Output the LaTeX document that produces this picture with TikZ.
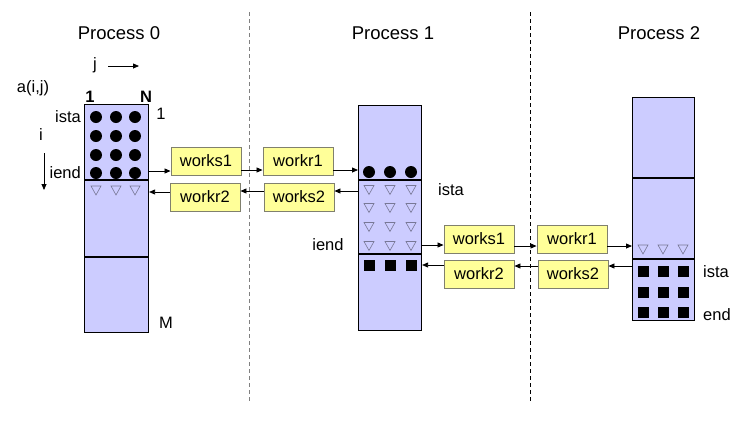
\documentclass[tikz,border=0pt]{standalone}
\usepackage{fontspec}
\setmainfont{Liberation Sans}
\usetikzlibrary{arrows.meta}
\definecolor{colfill}{RGB}{204,204,255}
\definecolor{boxfill}{RGB}{255,255,153}
\definecolor{boxdraw}{RGB}{128,128,110}
\definecolor{trigray}{RGB}{120,120,150}
\begin{document}
\begin{tikzpicture}[x=1pt,y=-1pt,
  col/.style={draw=black, fill=colfill, line width=1.1pt, inner sep=0pt, anchor=north west},
  wbox/.style={draw=boxdraw, fill=boxfill, line width=0.9pt, minimum width=70pt, minimum height=28pt, inner sep=0pt, font=\fontsize{16.5}{19}\selectfont},
  lab/.style={inner sep=0pt, font=\fontsize{16.5}{19}\selectfont},
  plab/.style={inner sep=0pt, font=\fontsize{18.5}{22}\selectfont},
  arr/.style={-{Triangle[length=6pt,width=5pt]}, line width=0.8pt},
  sep/.style={dash pattern=on 4pt off 3pt, line width=1pt},
  dot/.style={fill=black},
  tri/.style={draw=trigray, line width=0.6pt},
  sq/.style={fill=black}
]
\useasboundingbox (0,0) rectangle (748,424);

% separators
\coordinate (s1t) at (249,12); \coordinate (s1b) at (249,403);
\coordinate (s2t) at (530,12); \coordinate (s2b) at (530,403);
\draw[sep, gray] (s1t) -- (s1b);
\draw[sep, black] (s2t) -- (s2b);

% process labels
\node[plab] (p0) at (119,33) {Process 0};
\node[plab] (p1) at (393,33) {Process 1};
\node[plab] (p2) at (659,33) {Process 2};

% columns
\node[col, minimum width=64pt, minimum height=228pt] (c0) at (84,104) {};
\node[col, minimum width=63pt, minimum height=225pt] (c1) at (358,105) {};
\node[col, minimum width=62pt, minimum height=223pt] (c2) at (632,97) {};

\draw[line width=1.1pt] (c0.west |- 0,180) -- (c0.east |- 0,180);
\draw[line width=1.1pt] (c0.west |- 0,257) -- (c0.east |- 0,257);
\draw[line width=1.1pt] (c1.west |- 0,180) -- (c1.east |- 0,180);
\draw[line width=1.1pt] (c1.west |- 0,254) -- (c1.east |- 0,254);
\draw[line width=1.1pt] (c2.west |- 0,178) -- (c2.east |- 0,178);
\draw[line width=1.1pt] (c2.west |- 0,259) -- (c2.east |- 0,259);

% dots
\foreach \x in {96,116,135} \foreach \y in {117,136,155,173} \fill[dot] (\x,\y) circle (6pt);
\foreach \x in {369,390,411} \fill[dot] (\x,172) circle (6pt);

% triangles
\foreach \x in {96,116,135} \draw[tri] (\x-5,186) -- (\x+5,186) -- (\x,195) -- cycle;
\foreach \x in {369,390,411} \foreach \y in {190,208,227,246}
  \draw[tri] (\x-5,\y-4.5) -- (\x+5,\y-4.5) -- (\x,\y+4.5) -- cycle;
\foreach \x in {643,663,683} \draw[tri] (\x-5,245) -- (\x+5,245) -- (\x,254) -- cycle;

% squares
\foreach \x in {369,390,411} \fill[sq] (\x-5.5,259.5) rectangle (\x+5.5,270.5);
\foreach \x in {643,663,683} \foreach \y in {271,292,312}
  \fill[sq] (\x-5.5,\y-5.5) rectangle (\x+5.5,\y+5.5);

% labels process 0
\node[lab] (aij) at (33,88) {a(i,j)};
\node[lab] (jl) at (95,65) {j};
\coordinate (ja) at (108,66); \coordinate (jb) at (139,66);
\draw[arr] (ja) -- (jb);
\node[lab, font=\fontsize{16.5}{19}\selectfont\bfseries] (one) at (90,97) {1};
\node[lab, font=\fontsize{16.5}{19}\selectfont\bfseries] (nn) at (146,97) {N};
\node[lab] (oner) at (161,114) {1};
\node[lab, anchor=east] (ista0) at (81,117) {ista};
\node[lab] (il) at (41,135) {i};
\coordinate (ia) at (44,153); \coordinate (ib) at (44,190);
\draw[arr] (ia) -- (ib);
\node[lab, anchor=east] (iend0) at (81,173) {iend};
\node[lab] (mm) at (166,323) {M};

% labels process 1
\node[lab] (ista1) at (451,190) {ista};
\node[lab] (iend1) at (328,245) {iend};
% labels process 2
\node[lab] (ista2) at (716,272) {ista};
\node[lab] (end2) at (717,315) {end};

% boxes
\node[wbox] (ws1a) at (206,161) {works1};
\node[wbox] (wr2a) at (205,197) {workr2};
\node[wbox] (wr1b) at (298,161) {workr1};
\node[wbox] (ws2b) at (299,197) {works2};
\node[wbox] (ws1b) at (479,239) {works1};
\node[wbox] (wr2b) at (479,274) {workr2};
\node[wbox] (wr1c) at (572,239) {workr1};
\node[wbox] (ws2c) at (573,274) {works2};

% arrows
\draw[arr] (c0.east |- 0,171) -- (ws1a.west |- 0,171);
\draw[arr] (ws1a.east |- 0,170) -- (wr1b.west |- 0,170);
\draw[arr] (wr1b.east |- 0,170) -- (c1.west |- 0,170);
\draw[arr] (c1.west |- 0,191) -- (ws2b.east |- 0,191);
\draw[arr] (ws2b.west |- 0,191) -- (wr2a.east |- 0,191);
\draw[arr] (wr2a.west |- 0,192) -- (c0.east |- 0,192);

\draw[arr] (c1.east |- 0,245) -- (ws1b.west |- 0,245);
\draw[arr] (ws1b.east |- 0,246) -- (wr1c.west |- 0,246);
\draw[arr] (wr1c.east |- 0,246) -- (c2.west |- 0,246);
\draw[arr] (c2.west |- 0,266) -- (ws2c.east |- 0,266);
\draw[arr] (ws2c.west |- 0,266) -- (wr2b.east |- 0,266);
\draw[arr] (wr2b.west |- 0,265) -- (c1.east |- 0,265);
\end{tikzpicture}
\end{document}
